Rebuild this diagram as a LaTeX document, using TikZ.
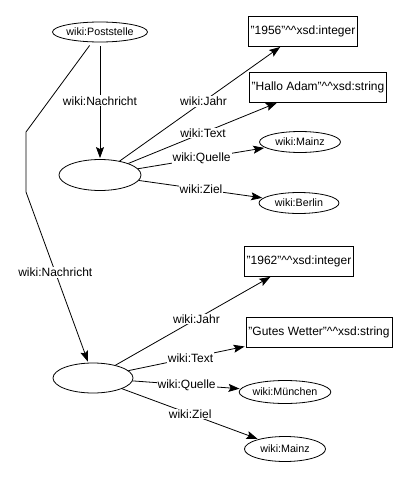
\documentclass[tikz,border=0pt]{standalone}
\usepackage{fontspec}
\setmainfont{Liberation Sans}
\usetikzlibrary{shapes.geometric,arrows.meta}

\begin{document}
\begin{tikzpicture}[x=1pt,y=-1pt,line width=0.8pt,
  res/.style={draw,ellipse,inner sep=0pt,font=\fontsize{10.7}{12}\selectfont},
  lit/.style={draw,rectangle,inner xsep=2.5pt,inner ysep=0pt,minimum height=30pt,font=\fontsize{12}{14}\selectfont},
  lbl/.style={fill=white,inner sep=1pt,font=\fontsize{12}{14}\selectfont},
  arr/.style={-{Stealth[length=11pt,width=8pt,inset=2pt]},shorten >=1pt}]
\useasboundingbox (0,0) rectangle (411,479);
\node[res,minimum width=80pt,minimum height=20pt] (pst) at (100,32) {wiki:Poststelle};
% first message
\node[res,minimum width=82pt,minimum height=31pt] (b1) at (100,175) {};
\node[lit] (y1) at (303,31) {"1956"\textasciicircum\textasciicircum xsd:integer};
\node[lit] (t1) at (318,87) {"Hallo Adam"\textasciicircum\textasciicircum xsd:string};
\node[res,minimum width=81pt,minimum height=21pt] (q1) at (300,142) {wiki:Mainz};
\node[res,minimum width=80pt,minimum height=21pt] (z1) at (299,203) {wiki:Berlin};
% second message
\node[res,minimum width=80pt,minimum height=30pt] (b2) at (93,378) {};
\node[lit] (y2) at (299,261) {"1962"\textasciicircum\textasciicircum xsd:integer};
\node[lit] (t2) at (319,332) {"Gutes Wetter"\textasciicircum\textasciicircum xsd:string};
\node[res,minimum width=81pt,minimum height=23pt] (q2) at (285,392) {wiki:München};
\node[res,minimum width=81pt,minimum height=25pt] (z2) at (285,449) {wiki:Mainz};
\coordinate (k1) at (26,132);
\coordinate (k2) at (26,192);

\draw[arr,shorten <=4pt] (pst.south) -- node[lbl]{wiki:Nachricht} (b1.north);
\draw[arr,shorten <=4pt] (pst.232) -- (k1) -- (k2) -- node[lbl,pos=0.47]{wiki:Nachricht} (b2.107);

\draw[arr] (b1) -- node[lbl,pos=0.52]{wiki:Jahr} (y1.215);
\draw[arr] (b1) -- node[lbl]{wiki:Text} (t1.201.5);
\draw[arr] (b1) -- node[lbl]{wiki:Quelle} (q1);
\draw[arr] (b1) -- node[lbl]{wiki:Ziel} (z1);

\draw[arr] (b2) -- node[lbl,pos=0.52]{wiki:Jahr} (y2.209);
\draw[arr] (b2) -- node[lbl,pos=0.53]{wiki:Text} (t2.191);
\draw[arr] (b2) -- node[lbl]{wiki:Quelle} (q2);
\draw[arr] (b2) -- node[lbl]{wiki:Ziel} (z2);
\end{tikzpicture}
\end{document}
